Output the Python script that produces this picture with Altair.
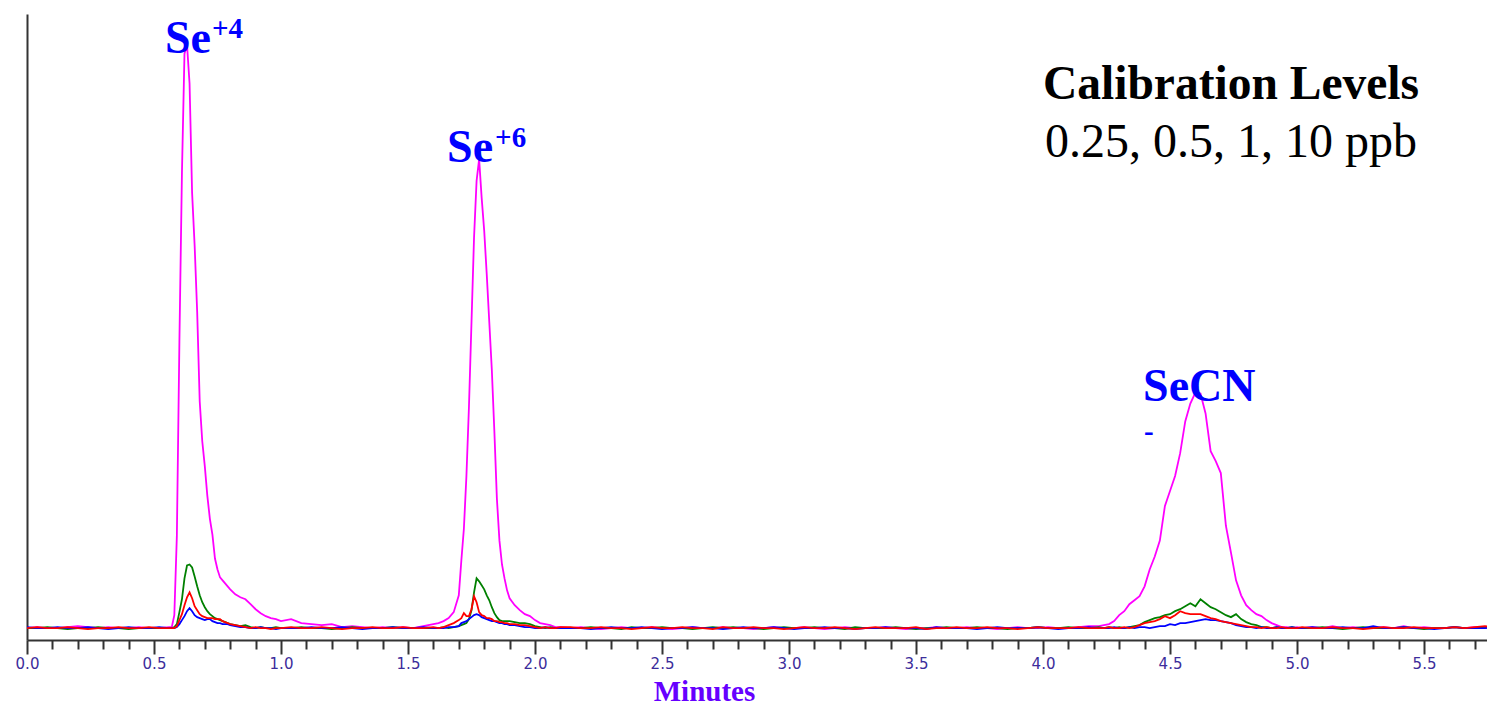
import altair as alt
import pandas as pd

# ---------------- data ----------------
def seg(a, b, step):
    n = int(round((b - a) / step)) + 1
    return [round(a + i * step, 3) for i in range(n)]

# sampling times (minutes): coarse on the baseline, fine across the peaks
TIME = (seg(0.00, 0.56, 0.04) + seg(0.57, 0.80, 0.01) + seg(0.82, 1.00, 0.02)
        + seg(1.04, 1.60, 0.04) + seg(1.62, 1.70, 0.02) + seg(1.71, 1.90, 0.01)
        + seg(1.92, 2.10, 0.02) + seg(2.14, 4.22, 0.04) + seg(4.24, 5.00, 0.02)
        + seg(5.02, 5.78, 0.04))

# 10 ppb (magenta)
ppb10 = (
    [12, 13, 12, 12, 13, 14, 13, 12, 13, 12, 12, 13, 12, 12, 13]
    + [13, 25, 105, 300, 470, 590, 599, 560, 450, 397, 330, 240, 200, 175, 145, 122,
       106, 82, 71, 63, 60, 57, 54, 51]
    + [46, 43, 41, 36, 31, 27, 24, 22, 21, 19]
    + [21, 17, 16, 15, 16, 13, 14, 13, 12, 13, 12, 13, 12, 14, 16]
    + [17, 19, 22, 28, 45]
    + [80, 112, 165, 235, 320, 405, 462, 484, 445, 412, 368, 320, 272, 210, 142, 100,
       76, 62, 50, 42]
    + [35, 30, 26, 24, 20, 17, 16, 15, 13, 13]
    + [12, 13, 12, 11, 12, 13, 12, 12, 13, 12, 11, 12, 13, 12, 12, 13, 12, 12, 11, 12,
       13, 12, 12, 13, 12, 11, 12, 13, 12, 12, 12, 13, 12, 11, 12, 12, 13, 12, 12, 13,
       12, 12, 11, 12, 13, 12, 12, 13, 12, 12, 13, 14, 14]
    + [15, 16, 19, 25, 29, 36, 40, 44, 54, 71, 84, 100, 135, 150, 165, 188, 220, 238,
       249, 248, 228, 190, 180, 168, 115, 88, 60, 45, 35, 30, 26, 24, 20, 17, 15, 13,
       13, 12, 13]
    + [12, 13, 12, 14, 12, 13, 12, 12, 13, 12, 14, 12, 13, 12, 12, 13, 12, 13, 12, 13]
)

# 1 ppb (green)
ppb1 = (
    [12, 12, 13, 12, 11, 12, 12, 13, 12, 12, 11, 12, 12, 12, 12]
    + [12, 13, 16, 28, 41, 62, 75, 76, 73, 64, 54, 45, 38, 33, 29, 26, 24, 22, 21, 20,
       19, 18, 17, 16]
    + [15, 14, 15, 13, 12, 13, 12, 12, 13, 12]
    + [12, 13, 12, 12, 11, 12, 13, 12, 12, 12, 13, 12, 12, 12, 12]
    + [12, 13, 12, 13, 14]
    + [15, 16, 17, 21, 30, 48, 62, 59, 55, 51, 45, 40, 33, 27, 23, 20, 19, 19, 19, 19]
    + [18, 17, 17, 16, 14, 13, 12, 13, 12, 12]
    + [12, 12, 13, 12, 12, 11, 13, 12, 12, 13, 12, 12, 11, 12, 13, 12, 13, 12, 12, 11,
       12, 13, 12, 12, 13, 12, 12, 11, 13, 12, 12, 12, 13, 12, 11, 12, 12, 13, 12, 12,
       13, 12, 12, 11, 12, 12, 13, 12, 12, 13, 12, 12, 13]
    + [12, 13, 12, 13, 12, 13, 14, 15, 18, 20, 22, 23, 25, 26, 29, 31, 34, 37, 34, 41,
       37, 33, 31, 28, 25, 23, 26, 21, 18, 16, 15, 13, 13, 12, 13, 12, 12, 13, 12]
    + [12, 12, 13, 12, 11, 12, 13, 12, 12, 12, 13, 12, 11, 12, 12, 13, 12, 12, 13, 12]
)

# 0.5 ppb (red)
ppb05 = (
    [12, 13, 12, 12, 13, 12, 11, 12, 12, 13, 12, 12, 13, 12, 12]
    + [12, 12, 14, 20, 26, 35, 43, 48, 42, 34, 30, 26, 24, 23, 22, 22, 22, 21, 21, 21,
       19, 18, 17, 16]
    + [15, 14, 13, 12, 13, 12, 12, 11, 12, 12]
    + [13, 12, 12, 13, 12, 11, 12, 12, 13, 12, 12, 13, 12, 12, 13]
    + [12, 13, 15, 17, 20]
    + [22, 27, 24, 24, 31, 44, 38, 28, 25, 24, 22, 22, 21, 19, 19, 18, 18, 17, 17, 16]
    + [16, 15, 15, 14, 13, 12, 13, 12, 12, 13]
    + [13, 12, 12, 13, 12, 12, 11, 12, 13, 12, 12, 13, 12, 12, 11, 13, 12, 12, 13, 12,
       12, 11, 12, 13, 12, 12, 13, 12, 11, 12, 13, 12, 12, 12, 13, 11, 12, 12, 13, 12,
       12, 13, 12, 12, 11, 12, 13, 12, 12, 12, 13, 12, 12]
    + [12, 13, 12, 12, 13, 12, 13, 15, 17, 18, 19, 21, 24, 22, 25, 29, 27, 26, 26, 26,
       24, 22, 21, 19, 18, 17, 16, 15, 14, 13, 13, 12, 13, 12, 12, 13, 12, 12, 12]
    + [13, 12, 12, 13, 12, 12, 11, 12, 13, 12, 12, 13, 12, 12, 12, 13, 12, 13, 14, 12]
)

# 0.25 ppb (blue)
ppb025 = (
    [13, 12, 12, 13, 12, 12, 13, 12, 11, 12, 13, 12, 12, 13, 12]
    + [12, 12, 13, 16, 20, 24, 29, 32, 29, 25, 23, 22, 21, 20, 21, 21, 19, 18, 17, 17,
       16, 16, 16, 15]
    + [14, 13, 13, 12, 12, 13, 12, 12, 11, 12]
    + [12, 12, 13, 12, 12, 13, 12, 11, 12, 12, 13, 12, 12, 13, 12]
    + [12, 12, 13, 13, 14]
    + [17, 18, 19, 21, 23, 25, 26, 25, 23, 22, 21, 20, 19, 19, 18, 17, 17, 16, 16, 15]
    + [15, 14, 13, 13, 12, 12, 13, 12, 12, 12]
    + [12, 12, 11, 12, 13, 12, 12, 13, 12, 11, 12, 12, 13, 12, 12, 11, 12, 13, 12, 12,
       13, 12, 11, 12, 12, 13, 12, 12, 11, 12, 12, 13, 12, 12, 12, 11, 13, 12, 12, 12,
       11, 12, 13, 12, 12, 12, 13, 12, 11, 12, 12, 13, 12]
    + [12, 12, 13, 12, 12, 13, 12, 13, 13, 12, 13, 14, 14, 16, 15, 17, 17, 18, 19, 20,
       21, 20, 20, 19, 18, 17, 15, 14, 13, 13, 12, 13, 12, 12, 13, 12, 12, 13, 12]
    + [12, 13, 12, 12, 13, 12, 12, 14, 12, 12, 13, 12, 12, 11, 12, 13, 12, 12, 12, 13]
)

SERIES = ["10 ppb", "1 ppb", "0.25 ppb", "0.5 ppb"]       # drawing order
VALUES = [ppb10, ppb1, ppb025, ppb05]
COLORS = ["#ff00ff", "#008000", "#0000ff", "#ff0000"]

MAJOR_TICKS = [0.0, 0.5, 1.0, 1.5, 2.0, 2.5, 3.0, 3.5, 4.0, 4.5, 5.0, 5.5]
MINOR_TICKS = [round(i * 0.1, 1) for i in range(58) if i % 5 != 0]

# peak labels (main text + superscript), anchored in data units
ION_TEXT = ["Se", "Se", "SeCN"]
ION_TIME = [0.543, 1.654, 4.394]
ION_VALUE = [591, 481, 241]
SUP_TEXT = ["+4", "+6", "-"]
SUP_TIME = [0.728, 1.843, 4.398]
SUP_VALUE = [606, 496, 200]

NOTE_TEXT = ["Calibration Levels", "0.25, 0.5, 1, 10 ppb"]
NOTE_TIME = [4.740, 4.740]
NOTE_VALUE = [544, 486]

# ---------------- chart ----------------
xscale = alt.Scale(domain=[0, 5.748], nice=False, zero=False)
yscale = alt.Scale(domain=[0, 630], nice=False, zero=False)
yaxis = alt.Axis(labels=False, ticks=False, title=None, grid=False, domain=True,
                 domainColor="#333333", domainWidth=2)

major_axis = alt.Axis(
    orient="bottom", values=MAJOR_TICKS, format=".1f",
    ticks=True, tickSize=14, tickWidth=2, tickColor="#333333",
    domain=True, domainColor="#333333", domainWidth=2, grid=False,
    labelFont="DejaVu Sans", labelFontSize=15, labelColor="#3c2d9b", labelPadding=2,
    labelFlush=False,
    title="Minutes", titleFont="Liberation Serif", titleFontWeight="bold",
    titleFontSize=29, titleColor="#6600ff", titleX=677, titleY=60,
    titleBaseline="alphabetic", titleAlign="center", titleAnchor="start",
)
minor_axis = alt.Axis(
    orient="bottom", values=MINOR_TICKS, ticks=True, tickSize=9, tickWidth=2,
    tickColor="#333333", labels=False, domain=False, grid=False, title=None)

layers = []
for i, (name, vals, col) in enumerate(zip(SERIES, VALUES, COLORS)):
    df = pd.DataFrame({"time": TIME, "value": vals})
    if i == 0:
        ax = major_axis
    elif i == 1:
        ax = minor_axis
    else:
        ax = None
    layers.append(
        alt.Chart(df).mark_line(color=col, strokeWidth=1.8, clip=True).encode(
            x=alt.X("time:Q", scale=xscale, axis=ax),
            y=alt.Y("value:Q", scale=yscale, axis=yaxis),
        )
    )

ion_df = pd.DataFrame({"t": ION_TEXT, "time": ION_TIME, "value": ION_VALUE})
sup_df = pd.DataFrame({"t": SUP_TEXT, "time": SUP_TIME, "value": SUP_VALUE})
note_df = pd.DataFrame({"t": NOTE_TEXT, "time": NOTE_TIME, "value": NOTE_VALUE})

ions = alt.Chart(ion_df).mark_text(
    align="left", baseline="alphabetic", font="Liberation Serif",
    fontWeight="bold", fontSize=46, color="#0000ff"
).encode(x=alt.X("time:Q", scale=xscale, axis=None),
         y=alt.Y("value:Q", scale=yscale, axis=yaxis), text="t:N")

sups = alt.Chart(sup_df).mark_text(
    align="left", baseline="alphabetic", font="Liberation Serif",
    fontWeight="bold", fontSize=29, color="#0000ff"
).encode(x=alt.X("time:Q", scale=xscale, axis=None),
         y=alt.Y("value:Q", scale=yscale, axis=yaxis), text="t:N")

note_bold = alt.Chart(note_df.iloc[[0]]).mark_text(
    align="center", baseline="alphabetic", font="Liberation Serif",
    fontWeight="bold", fontSize=47.5, color="#000000"
).encode(x=alt.X("time:Q", scale=xscale, axis=None),
         y=alt.Y("value:Q", scale=yscale, axis=yaxis), text="t:N")

note_reg = alt.Chart(note_df.iloc[[1]]).mark_text(
    align="center", baseline="alphabetic", font="Liberation Serif",
    fontWeight="normal", fontSize=48, color="#000000"
).encode(x=alt.X("time:Q", scale=xscale, axis=None),
         y=alt.Y("value:Q", scale=yscale, axis=yaxis), text="t:N")

chart = (
    alt.layer(*layers, ions, sups, note_bold, note_reg)
    .resolve_axis(x="independent")
    .properties(width=1460, height=626,
                padding={"left": 19, "top": 6, "right": 0, "bottom": 66},
                autosize=alt.AutoSizeParams(type="none"))
    .configure_view(stroke=None)
)

chart.save("out.html", embed_options={"renderer": "svg", "actions": False})
